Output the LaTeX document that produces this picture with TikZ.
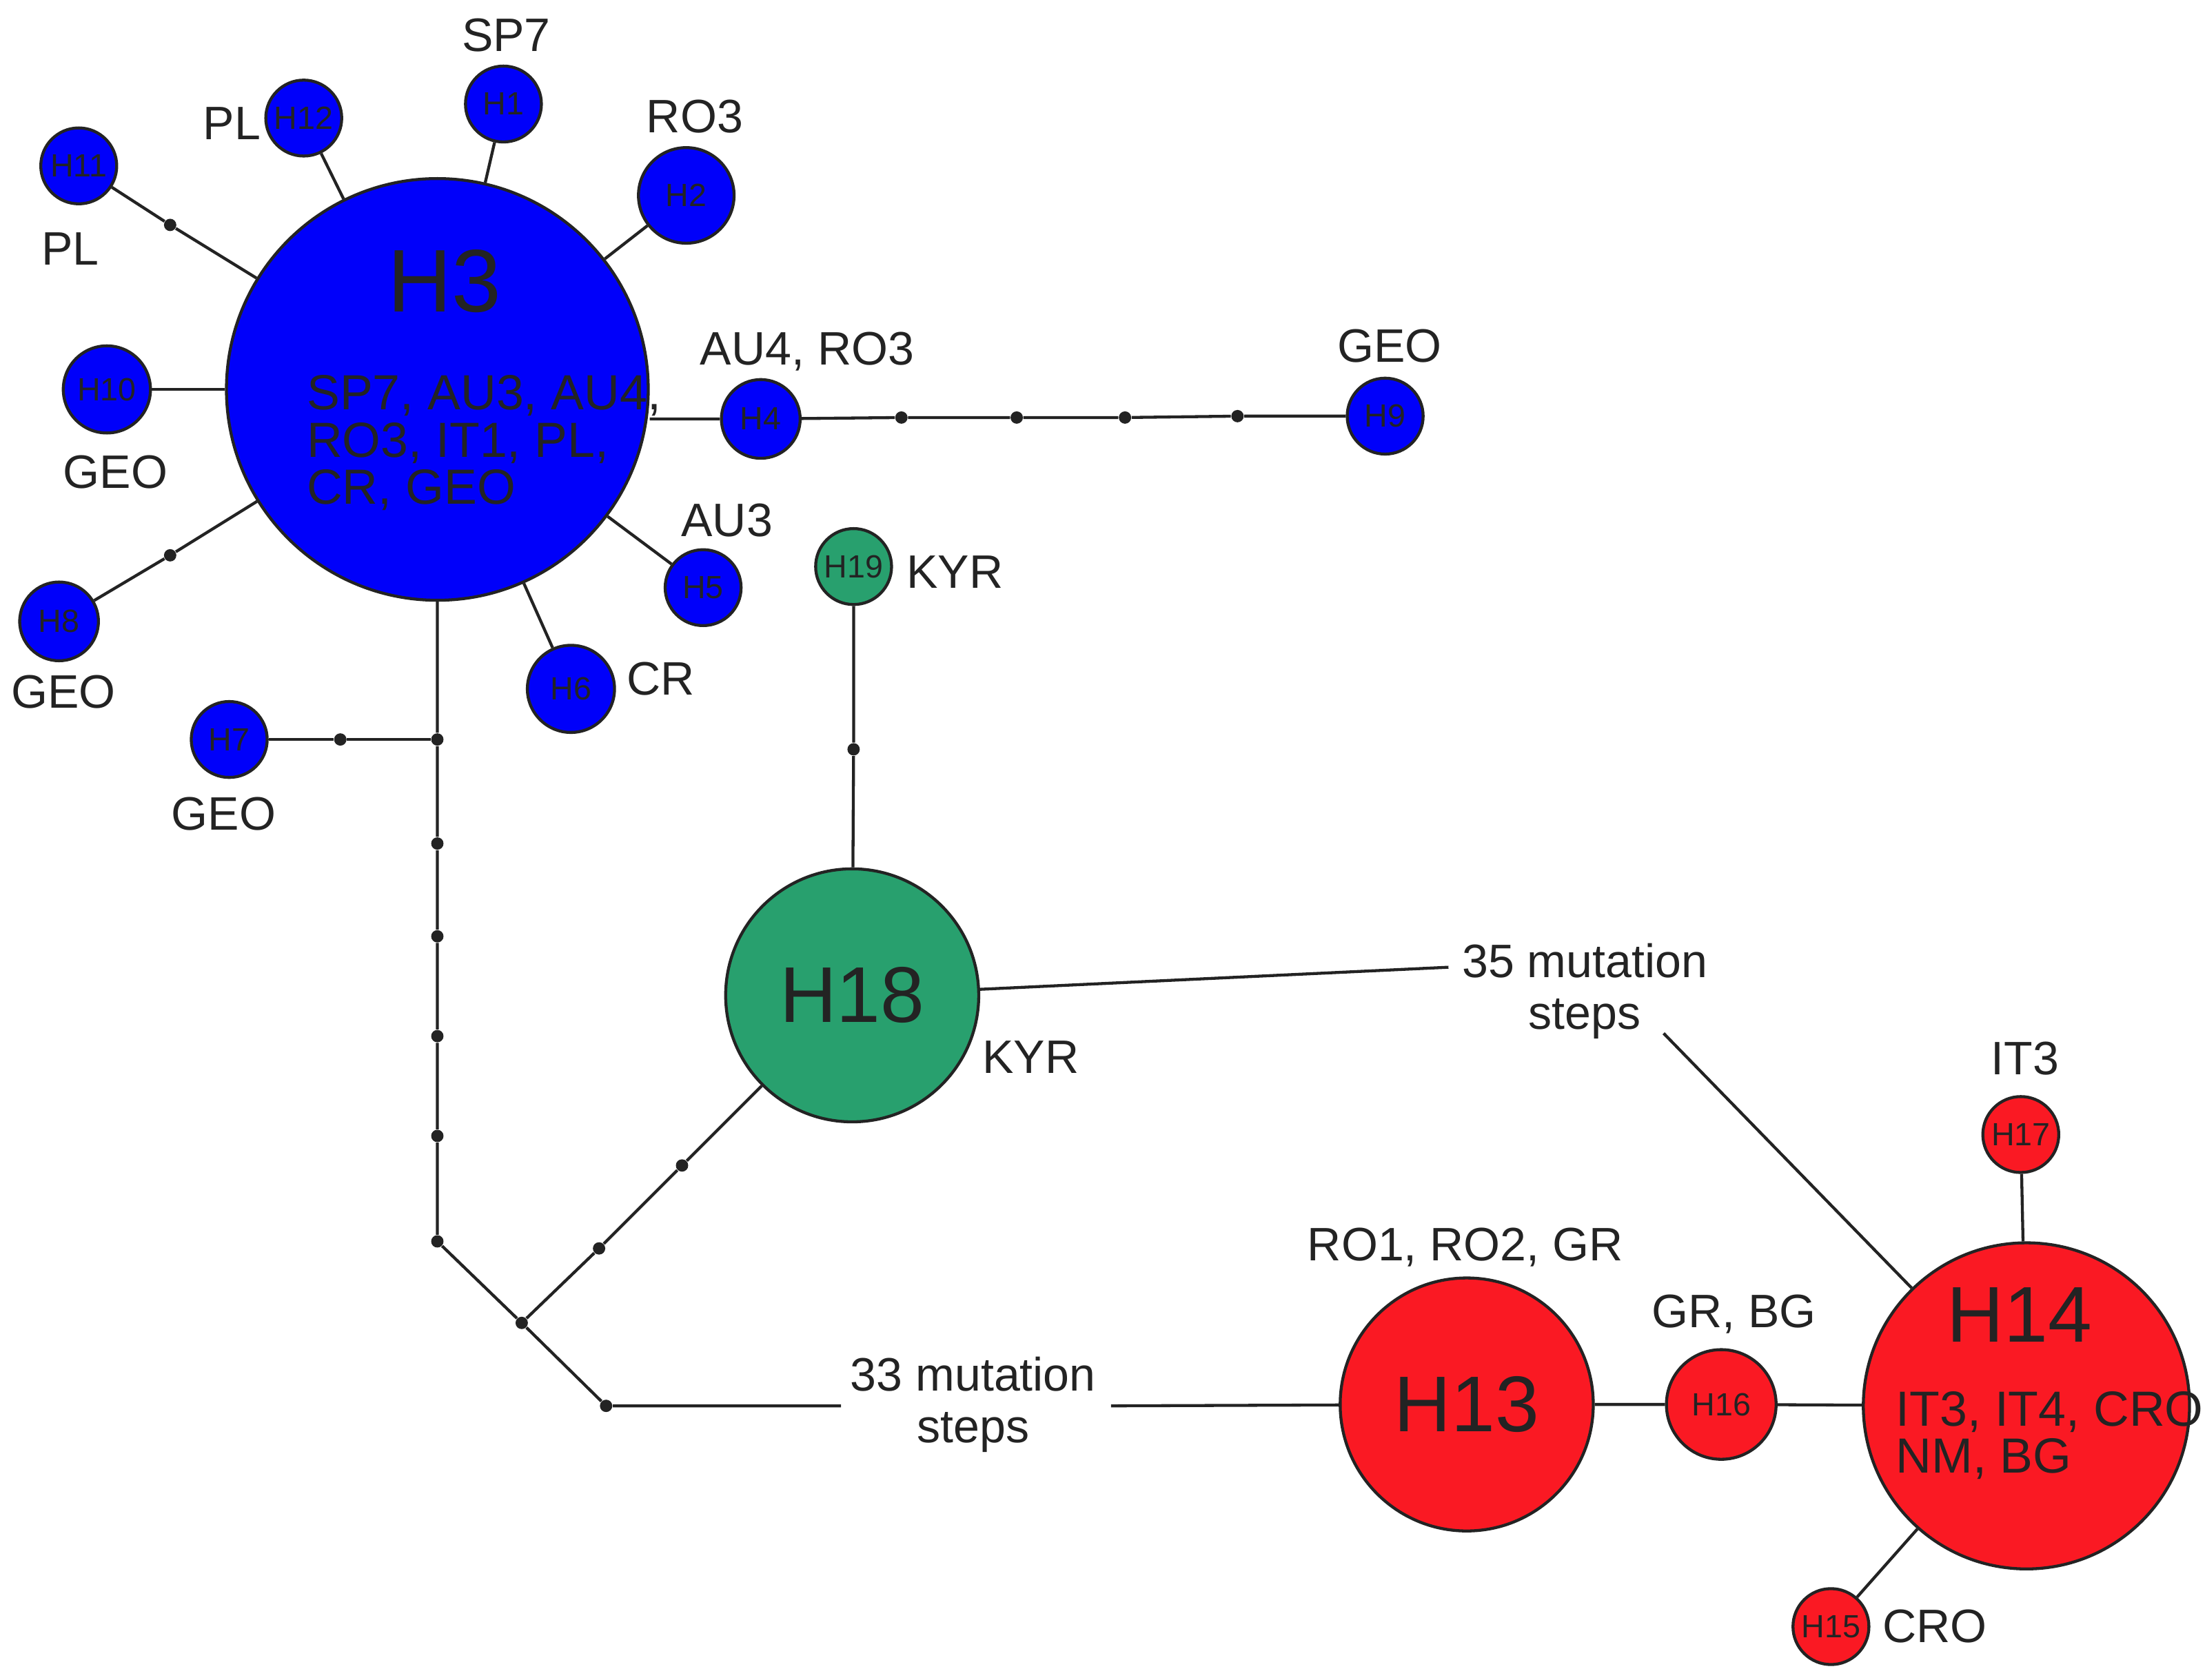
\documentclass[tikz,border=0pt]{standalone}
\usepackage{fontspec}
\setmainfont{Liberation Sans}
\usetikzlibrary{positioning}
\definecolor{hblue}{RGB}{0,0,250}
\definecolor{hgreen}{RGB}{40,160,110}
\definecolor{hred}{RGB}{250,25,35}
\definecolor{ink}{RGB}{35,35,35}
\tikzset{
  hap/.style = {circle, draw=ink, line width=1.2pt, inner sep=0pt, text=ink},
  blu/.style = {hap, fill=hblue, minimum size=#1},
  grn/.style = {hap, fill=hgreen, minimum size=#1},
  rd/.style  = {hap, fill=hred, minimum size=#1},
  sm/.style  = {font=\fontsize{13}{13}\selectfont},
  lab/.style = {text=ink, font=\fontsize{19}{21}\selectfont},
  mv/.style  = {circle, fill=ink, inner sep=0pt, minimum size=5pt},
  link/.style = {draw=ink, line width=1.2pt}
}
\begin{document}
\begin{tikzpicture}[x=0.02cm, y=-0.02cm]
  \useasboundingbox (0,0) rectangle (1568,1195);
  % blue haplotypes
  \node[blu=6cm] (H3) at (311,277) {};
  \node[blu=1.08cm, sm] (H1) at (358,74) {H1};
  \node[blu=1.08cm, sm] (H12) at (216,84) {H12};
  \node[blu=1.08cm, sm] (H11) at (56,118) {H11};
  \node[blu=1.36cm, sm] (H2) at (488,139) {H2};
  \node[blu=1.24cm, sm] (H10) at (76,277) {H10};
  \node[blu=1.12cm, sm] (H4) at (541,298) {H4};
  \node[blu=1.08cm, sm] (H9) at (985,296) {H9};
  \node[blu=1.08cm, sm] (H5) at (500,418) {H5};
  \node[blu=1.24cm, sm] (H6) at (406,490) {H6};
  \node[blu=1.12cm, sm] (H8) at (42,442) {H8};
  \node[blu=1.08cm, sm] (H7) at (163,526) {H7};
  % green haplotypes
  \node[grn=1.08cm, sm] (H19) at (607,403) {H19};
  \node[grn=3.6cm] (H18) at (606,708) {};
  % red haplotypes
  \node[rd=3.6cm] (H13) at (1043,999) {};
  \node[rd=1.56cm, sm] (H16) at (1224,999) {H16};
  \node[rd=4.64cm] (H14) at (1441,1000) {};
  \node[rd=1.08cm, sm] (H17) at (1437,807) {H17};
  \node[rd=1.08cm, sm] (H15) at (1302,1157) {H15};

  % texts inside big circles
  \node[text=ink, font=\fontsize{36}{36}\selectfont] at (316,200) {H3};
  \node[text=ink, font=\fontsize{20}{19}\selectfont, align=left, anchor=west] at (212,315) {SP7, AU3, AU4,\\RO3, IT1, PL,\\CR, GEO};
  \node[text=ink, font=\fontsize{32}{32}\selectfont] at (606,708) {H18};
  \node[text=ink, font=\fontsize{32}{32}\selectfont] at (1043,999) {H13};
  \node[text=ink, font=\fontsize{32}{32}\selectfont] at (1436,935) {H14};
  \node[text=ink, font=\fontsize{20}{19}\selectfont, align=left, anchor=west] at (1342,1021) {IT3, IT4, CRO\\NM, BG};

  % median vectors
  \node[mv] (m1) at (121,160) {};
  \node[mv] (m2) at (121,395) {};
  \node[mv] (a1) at (641,297) {};
  \node[mv] (a2) at (723,297) {};
  \node[mv] (a3) at (800,297) {};
  \node[mv] (a4) at (880,296) {};
  \node[mv] (b0) at (242,526) {};
  \node[mv] (v1) at (311,526) {};
  \node[mv] (v2) at (311,600) {};
  \node[mv] (v3) at (311,666) {};
  \node[mv] (v4) at (311,737) {};
  \node[mv] (v5) at (311,808) {};
  \node[mv] (v6) at (311,883) {};
  \node[mv] (j1) at (371,941) {};
  \node[mv] (j2) at (431,1000) {};
  \node[mv] (g1) at (426,888) {};
  \node[mv] (g2) at (485,829) {};
  \node[mv] (g3) at (607,533) {};
  \coordinate (s1) at (598,1000);
  \coordinate (s2) at (790,1000);
  \coordinate (t1) at (1030,688);
  \coordinate (t2) at (1183,735);

  % connections
  \draw[link] (H3) -- (H1);
  \draw[link] (H3) -- (H12);
  \draw[link] (H3) -- (m1) -- (H11);
  \draw[link] (H3) -- (H2);
  \draw[link] (H3) -- (H10);
  \draw[link] (H3.east |- H4) -- (H4) -- (a1) -- (a2) -- (a3) -- (a4) -- (H9);
  \draw[link] (H3) -- (H5);
  \draw[link] (H3) -- (H6);
  \draw[link] (H3) -- (m2) -- (H8);
  \draw[link] (H7) -- (b0) -- (v1);
  \draw[link] (H3.south) -- (v1) -- (v2) -- (v3) -- (v4) -- (v5) -- (v6) -- (j1) -- (j2) -- (s1);
  \draw[link] (j1) -- (g1) -- (g2) -- (H18);
  \draw[link] (H19) -- (g3) -- (H18);
  \draw[link] (s2) -- (H13) -- (H16) -- (H14);
  \draw[link] (H18) -- (t1);
  \draw[link] (t2) -- (H14);
  \draw[link] (H14) -- (H17);
  \draw[link] (H14) -- (H15);

  % labels
  \node[lab] at (360,25) {SP7};
  \node[lab] at (165,88) {PL};
  \node[lab] at (50,177) {PL};
  \node[lab] at (494,83) {RO3};
  \node[lab] at (82,336) {GEO};
  \node[lab] at (574,250) {AU4, RO3};
  \node[lab] at (988,246) {GEO};
  \node[lab] at (517,370) {AU3};
  \node[lab] at (470,483) {CR};
  \node[lab] at (45,492) {GEO};
  \node[lab] at (159,579) {GEO};
  \node[lab] at (679,407) {KYR};
  \node[lab] at (733,752) {KYR};
  \node[lab] at (1042,887) {RO1, RO2, GR};
  \node[lab] at (1233,935) {GR, BG};
  \node[lab] at (1440,753) {IT3};
  \node[lab] at (1376,1157) {CRO};
  \node[lab, align=center] at (692,999) {33 mutation\\steps};
  \node[lab, align=center] at (1127,705) {35 mutation\\steps};
\end{tikzpicture}
\end{document}
